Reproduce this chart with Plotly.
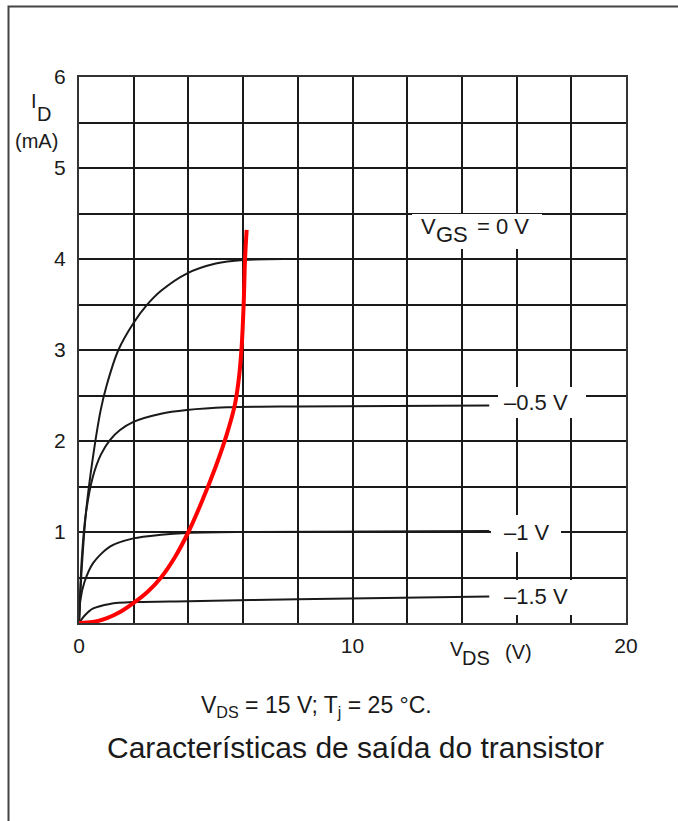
import plotly.graph_objects as go

# ---- data ----
vgs0_v = [0, 0.1, 0.25, 0.5, 0.8, 1.0, 1.44, 2.0, 2.47, 3.0, 3.94, 5.0, 6.0, 8.0, 15.0]
vgs0_i = [0, 0.6, 1.2, 1.8, 2.35, 2.6, 3.0, 3.3, 3.49, 3.65, 3.84, 3.95, 3.99, 4.0, 4.0]

vgs05_v = [0, 0.1, 0.25, 0.5, 0.8, 1.13, 1.5, 1.99, 3.0, 3.94, 5.4, 8.0, 15.0]
vgs05_i = [0, 0.7, 1.2, 1.6, 1.85, 2.01, 2.12, 2.21, 2.3, 2.34, 2.37, 2.38, 2.39]

vgs1_v = [0, 0.05, 0.2, 0.52, 1.13, 1.99, 3.0, 3.94, 6.0, 15.0]
vgs1_i = [0, 0.25, 0.45, 0.66, 0.84, 0.93, 0.97, 0.99, 1.0, 1.01]

vgs15_v = [0, 0.2, 0.52, 1.13, 2.0, 4.0, 8.0, 15.0]
vgs15_i = [0, 0.08, 0.16, 0.21, 0.23, 0.24, 0.26, 0.29]

red_v = [0, 0.5, 1.0, 1.5, 2.0, 2.5, 3.0, 3.5, 4.0, 4.5, 5.0, 5.4, 5.7, 5.85, 5.95, 6.02, 6.07, 6.13]
red_i = [0, 0.01, 0.05, 0.12, 0.22, 0.34, 0.5, 0.72, 1.0, 1.34, 1.72, 2.07, 2.4, 2.7, 3.05, 3.5, 3.99, 4.32]

x_ticks = [0, 2, 4, 6, 8, 10, 12, 14, 16, 18, 20]
x_labels = ["0", "", "", "", "", "10", "", "", "", "", "20"]
y_ticks = [0, 0.5, 1, 1.5, 2, 2.5, 3, 3.5, 4, 4.5, 5, 5.5, 6]
y_labels = ["", "", "1", "", "2", "", "3", "", "4", "", "5", "", "6"]

curve_labels = ["–0.5 V", "–1 V", "–1.5 V"]

W, H = 678, 821
L, R, T, B = 79, 626, 77, 623
FONT = "Liberation Sans, Arial, sans-serif"
TXT = "#1a1a1a"


def px(x):
    return (x - L) / (R - L)


def py(y):
    return (B - y) / (B - T)


fig = go.Figure()
black = "#1a1a1a"
for xs, ys in [(vgs0_v, vgs0_i), (vgs05_v, vgs05_i), (vgs1_v, vgs1_i), (vgs15_v, vgs15_i)]:
    fig.add_trace(go.Scatter(x=xs, y=ys, mode="lines",
                             line=dict(color=black, width=2, shape="spline", smoothing=0.8),
                             hoverinfo="skip", showlegend=False))
fig.add_trace(go.Scatter(x=red_v, y=red_i, mode="lines",
                         line=dict(color="#ff0000", width=4, shape="spline", smoothing=1.0),
                         hoverinfo="skip", showlegend=False))

shapes = []
# white label boxes erasing grid (pixel coords -> paper)
for x0, y0, x1, y1 in [(412, 214, 542, 249), (498, 387, 586, 418), (491, 515, 561, 552), (492, 580, 586, 615)]:
    shapes.append(dict(type="rect", xref="paper", yref="paper",
                       x0=px(x0), x1=px(x1), y0=py(y1), y1=py(y0),
                       fillcolor="white", line=dict(width=0), layer="above"))
# outer frame (right and bottom edges fall outside the picture)
shapes.append(dict(type="rect", xref="paper", yref="paper",
                   x0=px(8.5), x1=px(700), y0=py(850), y1=py(6.5),
                   fillcolor="rgba(0,0,0,0)", line=dict(color="#444", width=2), layer="above"))

annotations = []


def ann(text, x, y, size, xanchor="left"):
    annotations.append(dict(text=text, xref="paper", yref="paper", x=px(x), y=py(y),
                            xanchor=xanchor, yanchor="middle", showarrow=False, borderpad=0,
                            font=dict(family=FONT, size=size, color=TXT)))


# V_GS = 0 V (subscript at full size, shifted down)
ann("V", 420, 226, 22)
ann("GS", 435, 234, 22)
ann("= 0 V", 476, 226, 22)
ann(curve_labels[0], 503, 402, 22)
ann(curve_labels[1], 503, 532, 22)
ann(curve_labels[2], 503, 596, 22)
# I_D (mA)
ann("I", 30, 101, 20)
ann("D", 36, 114, 20)
ann("(mA)", 14, 141, 20)
# V_DS (V)
ann("V", 449, 649, 20)
ann("DS", 461, 658, 20)
ann("(V)", 504, 652, 20)
ann("V<sub>DS</sub> = 15 V; T<sub>j</sub> = 25 °C.", 316, 706, 23, "center")
ann("Características de saída do transistor", 356, 747, 30, "center")

fig.update_layout(
    width=W, height=H,
    margin=dict(l=L, r=W - R, t=T, b=H - B, pad=0),
    paper_bgcolor="white", plot_bgcolor="white",
    font=dict(family=FONT, size=21, color=TXT),
    shapes=shapes, annotations=annotations,
    xaxis=dict(range=[0, 20], tickvals=x_ticks, ticktext=x_labels,
               showgrid=True, gridcolor=black, gridwidth=2,
               showline=True, linecolor="#333", linewidth=2, mirror=True,
               zeroline=False, ticks="", ticklabelstandoff=3,
               tickfont=dict(family=FONT, size=21, color=TXT)),
    yaxis=dict(range=[0, 6], tickvals=y_ticks, ticktext=y_labels,
               showgrid=True, gridcolor=black, gridwidth=2,
               showline=True, linecolor="#333", linewidth=2, mirror=True,
               zeroline=False, ticks="", ticklabelstandoff=7,
               tickfont=dict(family=FONT, size=21, color=TXT)),
)

fig.write_html("out.html", config={"displayModeBar": False},
               post_script="document.body.style.margin='0';document.body.style.overflow='hidden';")
